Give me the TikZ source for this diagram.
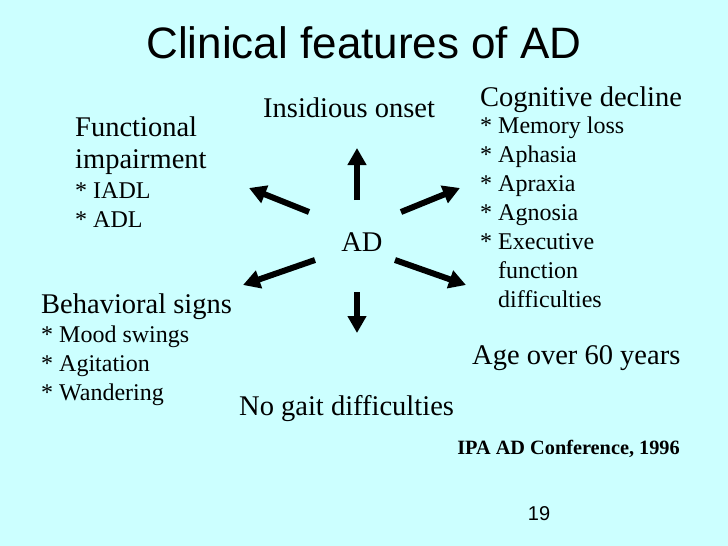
\documentclass[tikz,border=0pt]{standalone}
\usepackage{fontspec}
\setmainfont{Liberation Serif}
\newfontfamily\titlefont{Liberation Sans}
\usetikzlibrary{arrows.meta}

\definecolor{slidebg}{RGB}{204,255,255}
\newcommand{\headsize}{\fontsize{28.5}{32}\selectfont}
\newcommand{\itemsize}{\fontsize{24}{29}\selectfont}

\tikzset{
	bigarrow/.style={line width=6pt,-{Triangle[length=17pt,width=18pt]}},
	txt/.style={inner sep=0pt,anchor=base west,align=left,node font=\headsize},
	items/.style={txt,node font=\itemsize},
}

\begin{document}
\begin{tikzpicture}[x=1pt,y=-1pt]
	\fill[slidebg] (0,0) rectangle (728,546);
	\useasboundingbox (0,0) rectangle (728,546);
	
	\node[inner sep=0pt,anchor=base,font=\titlefont\fontsize{44}{48}\selectfont] (title) at (364,58){Clinical features of AD};
	\node[inner sep=0pt,anchor=base,font=\headsize] (AD) at (362,251){AD};
	
	% features round the centre (base = last line)
	\node[txt] (onset) at (263,117){Insidious onset};
	\node[txt] (cog) at (480,106){Cognitive decline};
	\node[items] (coglist) at (480,307){* Memory loss\\ * Aphasia\\ * Apraxia\\ * Agnosia\\ * Executive\\ \hspace*{18pt}function\\ \hspace*{18pt}difficulties};
	\node[txt] (func) at (75,168){Functional\\ impairment};
	\node[items] (funclist) at (75,227){* IADL\\ * ADL};
	\node[txt] (behav) at (41,313){Behavioral signs};
	\node[items] (behavlist) at (41,400){* Mood swings\\ * Agitation\\ * Wandering};
	\node[txt] (age) at (472,364){Age over 60 years};
	\node[txt] (gait) at (239,415){No gait difficulties};
	
	\node[inner sep=0pt,anchor=base east,font=\fontsize{20.3}{24}\selectfont\bfseries] (ref) at (680,454){IPA AD Conference, 1996};
	\node[inner sep=0pt,anchor=base,font=\titlefont\fontsize{20}{24}\selectfont] (page) at (539,520){19};
	
	% arrows
	\coordinate (upA) at (357,200);
	\coordinate (upB) at (357,148);
	\coordinate (ulA) at (309,212);
	\coordinate (ulB) at (249,188);
	\coordinate (urA) at (401,212);
	\coordinate (urB) at (460,188);
	\coordinate (llA) at (315,260);
	\coordinate (llB) at (243,285);
	\coordinate (lrA) at (395,260);
	\coordinate (lrB) at (466,285);
	\coordinate (dnA) at (357,292);
	\coordinate (dnB) at (357,333);
	
	\draw[bigarrow] (upA) -- (upB);
	\draw[bigarrow] (ulA) -- (ulB);
	\draw[bigarrow] (urA) -- (urB);
	\draw[bigarrow] (llA) -- (llB);
	\draw[bigarrow] (lrA) -- (lrB);
	\draw[bigarrow] (dnA) -- (dnB);
	
\end{tikzpicture}
\end{document}
